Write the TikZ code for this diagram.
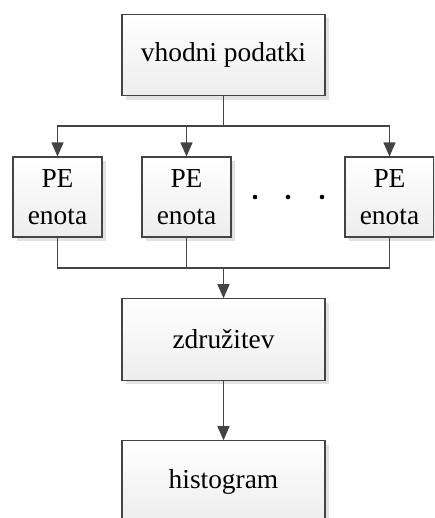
\documentclass[tikz,border=0pt]{standalone}
\usepackage{fontspec}
\setmainfont{Liberation Serif}
\usepackage{tikz}
\usetikzlibrary{arrows.meta,shadows,calc}

\definecolor{edgegray}{HTML}{444444}
\definecolor{shadowgray}{HTML}{E2E2E2}

\tikzset{
  block/.style={draw=edgegray, line width=0.6pt, rectangle, align=center,
    top color=white, bottom color=black!7,
    drop shadow={shadow xshift=0.08cm, shadow yshift=-0.08cm, fill=shadowgray, opacity=1},
    font=\fontsize{15.6}{21}\selectfont, inner sep=0pt},
  wideblock/.style={block, minimum width=4.06cm, minimum height=1.63cm},
  peblock/.style={block, minimum width=1.78cm, minimum height=1.6cm},
  link/.style={draw=edgegray, line width=0.6pt},
  arrow/.style={link, -{Triangle[width=0.24cm,length=0.28cm]}}
}

\begin{document}
\begin{tikzpicture}[x=0.02cm,y=-0.02cm]
  \clip (0,0) rectangle (434,518);
  \fill[white] (0,0) rectangle (434,518);

  % vhodni podatki
  \node[wideblock] (input) at (223.5,55) {vhodni podatki};

  % PE enote
  \node[peblock] (pe1) at (57.5,197) {PE\\enota};
  \node[peblock] (pe2) at (186.5,197) {PE\\enota};
  \node[peblock] (pe3) at (389.5,197) {PE\\enota};
  \foreach \x in {255,288,322}
    \fill[black] (\x,197) circle (2.3);

  % zdruzitev, histogram
  \node[wideblock] (merge) at (223.5,339.5) {združitev};
  \node[wideblock] (hist) at (223.5,481.5) {histogram};

  % connectors
  \coordinate (split) at (223.5,126);
  \coordinate (join) at (223.5,268);
  \draw[link] (input.south) -- (split);
  \foreach \i in {1,2,3}{
    \draw[arrow] (split) -| (pe\i.north);
    \draw[link] (pe\i.south) |- (join);
  }
  \draw[arrow] (join) -- (merge.north);
  \draw[arrow] (merge.south) -- (hist.north);
\end{tikzpicture}
\end{document}
